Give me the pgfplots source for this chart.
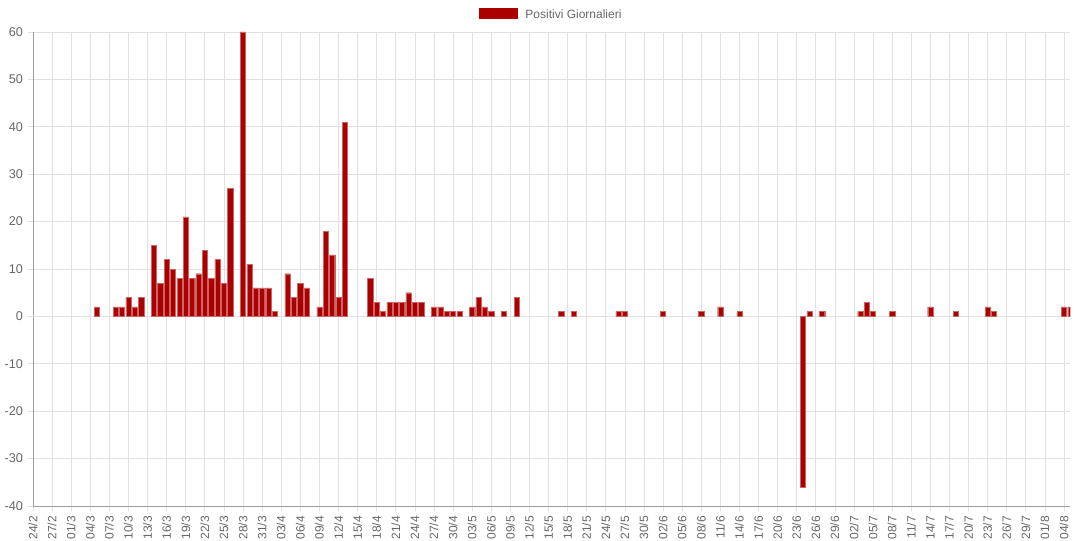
\documentclass[border=0pt]{standalone}
\usepackage{pgfplots}
\pgfplotsset{compat=1.18}
\usepackage{fontspec}
\setmainfont{Liberation Sans}
\definecolor{barred}{RGB}{170,0,0}
\definecolor{gridc}{RGB}{225,225,225}
\definecolor{txt}{RGB}{102,102,102}
\begin{document}
\begin{tikzpicture}
\useasboundingbox (-24.75pt,-25.5pt) rectangle (785.25pt,379.5pt);
\begin{axis}[
  scale only axis, width=778pt, height=355.5pt,
  xmin=0, xmax=163, ymin=-40, ymax=60,
  ytick={-40,-30,...,60},
  xtick={0,3,...,162},
  xticklabels={24/2,27/2,01/3,04/3,07/3,10/3,13/3,16/3,19/3,22/3,25/3,28/3,31/3,03/4,06/4,09/4,12/4,15/4,18/4,21/4,24/4,27/4,30/4,03/5,06/5,09/5,12/5,15/5,18/5,21/5,24/5,27/5,30/5,02/6,05/6,08/6,11/6,14/6,17/6,20/6,23/6,26/6,29/6,02/7,05/7,08/7,11/7,14/7,17/7,20/7,23/7,26/7,29/7,01/8,04/8},
  x tick label style={rotate=90, anchor=east, font=\fontsize{9}{10}\selectfont, text=txt},
  y tick label style={font=\fontsize{9.5}{10}\selectfont, text=txt},
  /pgf/number format/assume math mode=true,
  grid=major, major grid style={gridc, line width=0.5pt},
  axis line style={draw=gridc!70!black, line width=0.5pt},
  axis x line*=bottom, axis y line*=left,
  tick style={draw=gridc, line width=0.5pt},
  major tick length=4pt, tick align=outside,
  clip=true,
  extra y ticks={0}, extra y tick labels={},
  extra y tick style={grid style={gray!80, line width=0.6pt}},
  legend style={at={(0.5,1)}, anchor=center, yshift=13pt, draw=none, fill=none, font=\fontsize{9}{10}\selectfont, text=txt, legend columns=1},
  legend image code/.code={\fill[barred] (-0.1cm,-0.08cm) rectangle (0.9cm,0.16cm);},
]
\addplot[ybar, bar width=3.9pt, fill=barred, draw=barred!60!white, line width=0.3pt] coordinates {
(10,2)(13,2)(14,2)(15,4)(16,2)(17,4)(19,15)(20,7)(21,12)(22,10)(23,8)(24,21)(25,8)(26,9)(27,14)(28,8)(29,12)(30,7)(31,27)(33,60)(34,11)(35,6)(36,6)(37,6)(38,1)(40,9)(41,4)(42,7)(43,6)(45,2)(46,18)(47,13)(48,4)(49,41)
(53,8)(54,3)(55,1)(56,3)(57,3)(58,3)(59,5)(60,3)(61,3)(63,2)(64,2)(65,1)(66,1)(67,1)(69,2)(70,4)(71,2)(72,1)(74,1)(76,4)(83,1)(85,1)(92,1)(93,1)(99,1)
(105,1)(108,2)(111,1)(121,-36)(122,1)(124,1)(130,1)(131,3)(132,1)(135,1)(141,2)(145,1)(150,2)(151,1)(162,2)(163,2)
};
\addlegendentry{\hspace{4pt}Positivi Giornalieri}
\end{axis}
\end{tikzpicture}
\end{document}
